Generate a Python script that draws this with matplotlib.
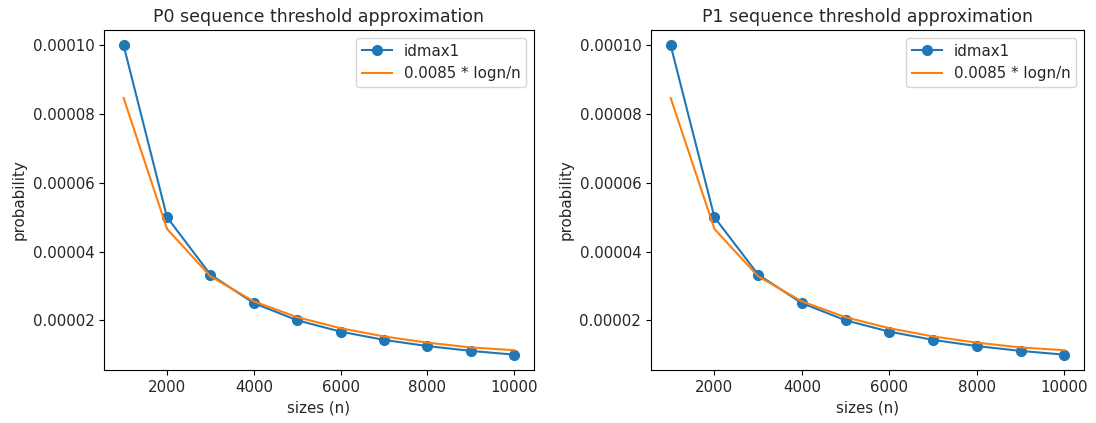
import matplotlib
matplotlib.use("Agg")
import matplotlib.pyplot as plt

# sequence sizes and measured probabilities
sizes = [1000, 2000, 3000, 4000, 5000, 6000, 7000, 8000, 9000, 10000]
p0_idmax1 = [1.0e-4, 5.0e-5, 3.33e-5, 2.5e-5, 2.0e-5, 1.67e-5, 1.43e-5, 1.25e-5, 1.11e-5, 1.0e-5]
p1_idmax1 = [1.0e-4, 5.0e-5, 3.33e-5, 2.5e-5, 2.0e-5, 1.67e-5, 1.43e-5, 1.25e-5, 1.11e-5, 1.0e-5]
# approximation curve 0.0085 * logn/n
approx = [8.47e-5, 4.66e-5, 3.28e-5, 2.55e-5, 2.09e-5, 1.77e-5, 1.53e-5, 1.35e-5, 1.21e-5, 1.13e-5]

titles = ["P0 sequence threshold approximation", "P1 sequence threshold approximation"]
series = [p0_idmax1, p1_idmax1]

plt.rcParams["font.size"] = 10.8
plt.rcParams["text.color"] = "#262626"
plt.rcParams["xtick.labelcolor"] = "#262626"
plt.rcParams["ytick.labelcolor"] = "#262626"
plt.rcParams["axes.labelcolor"] = "#262626"

fig = plt.figure(figsize=(10.96, 4.23), dpi=100)
boxes = [[0.095, 0.125, 0.392, 0.804], [0.594, 0.125, 0.395, 0.804]]

for box, title, values in zip(boxes, titles, series):
    ax = fig.add_axes(box)
    ax.plot(sizes, values, marker="o", markersize=7, color="#1f77b4", label="idmax1")
    ax.plot(sizes, approx, color="#ff7f0e", label="0.0085 * logn/n")
    ax.set_title(title, fontsize=12.5)
    ax.set_xlabel("sizes (n)")
    ax.set_ylabel("probability")
    ax.set_xticks([2000, 4000, 6000, 8000, 10000])
    ax.set_yticks([2e-5, 4e-5, 6e-5, 8e-5, 1e-4])
    ax.set_yticklabels(["0.00002", "0.00004", "0.00006", "0.00008", "0.00010"])
    ax.legend(loc="upper right")

fig.savefig("out.png", dpi=100)
